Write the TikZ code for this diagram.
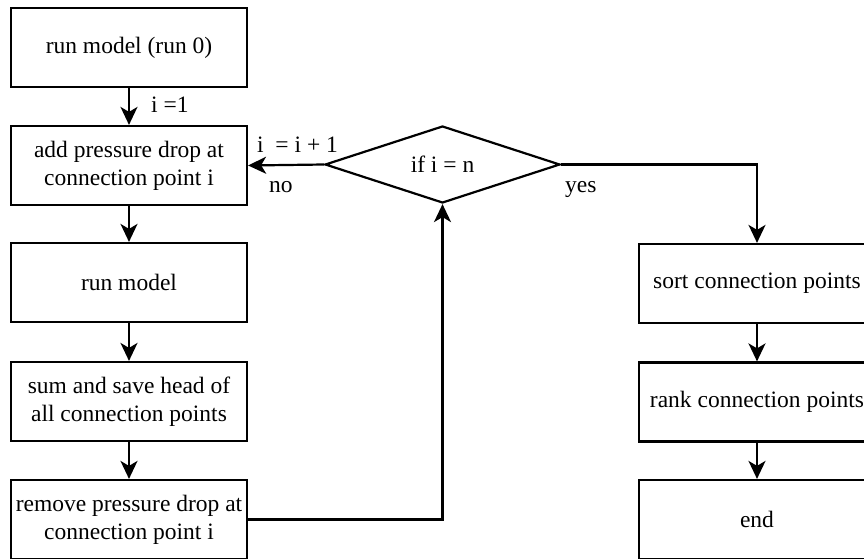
\documentclass[tikz,border=0pt]{standalone}
\usepackage{fontspec}
\setmainfont{Liberation Serif}
\usetikzlibrary{arrows.meta,shapes.geometric}
\begin{document}
\begin{tikzpicture}[x=1pt,y=-1pt,
  box/.style={draw,line width=2.2pt,minimum width=236pt,minimum height=79pt,align=center,inner sep=0pt,font=\fontsize{23.5}{28}\selectfont},
  lbl/.style={font=\fontsize{23.5}{28}\selectfont,inner sep=0pt},
  conn/.style={line width=2.2pt,-{Stealth[length=18pt,width=17pt,inset=5pt]}}]
\useasboundingbox (0,0) rectangle (864,559);
\clip (0,0) rectangle (864,559);
\node[box] (b1) at (129,47.5) {run model (run 0)};
\node[box] (b2) at (129,165.5) {add pressure drop at\\connection point i};
\node[box] (b3) at (129,282.5) {run model};
\node[box] (b4) at (129,401.5) {sum and save head of\\all connection points};
\node[box] (b5) at (129,519.5) {remove pressure drop at\\connection point i};
\node[draw,line width=2.2pt,diamond,aspect=3.05,minimum width=235pt,minimum height=77pt,inner sep=0pt,lbl] (d) at (442.5,164.5) {if i = n};
\node[box] (r1) at (757,283.5) {sort connection points};
\node[box] (r2) at (757,402) {rank connection points};
\node[box] (r3) at (757,519.5) {end};
\draw[conn] (b1) -- (b2) node[lbl,pos=0.45,anchor=west,xshift=21pt] {i =1};
\draw[conn] (b2) -- (b3);
\draw[conn] (b3) -- (b4);
\draw[conn] (b4) -- (b5);
\draw[conn] (d.west) -- (b2.east);
\node[lbl,anchor=base west] (lx) at (257,153) {i\ \ = i + 1};
\node[lbl,anchor=base west] (ln) at (269,192) {no};
\node[lbl,anchor=base west] (ly) at (565,192) {yes};
\coordinate (c1) at (757,164.5);
\draw[conn] (d.east) -- (c1) -- (r1.north);
\draw[conn] (r1) -- (r2);
\draw[conn] (r2) -- (r3);
\coordinate (c2) at (442.5,519.5);
\draw[conn] (b5.east) -- (c2) -- (d.south);
\end{tikzpicture}
\end{document}
